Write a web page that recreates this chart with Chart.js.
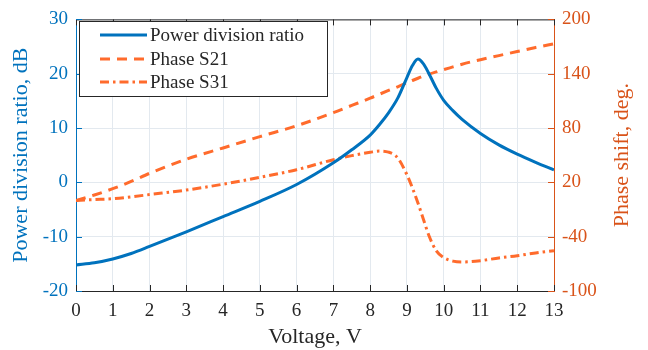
<!DOCTYPE html>
<html>
<head>
<meta charset="utf-8">
<script src="https://cdn.jsdelivr.net/npm/chart.js@4"></script>
<style>
  html, body { margin: 0; padding: 0; background: #fff; }
  #wrap { width: 648px; height: 350px; }
</style>
</head>
<body>
<div id="wrap"><canvas id="phaseChart"></canvas></div>
<script>
// voltage sweep, V
const voltage = [0, 0.5, 1, 1.5, 2, 3, 4, 5, 6, 7, 7.5, 8, 8.25, 8.5, 8.75, 9, 9.15, 9.3, 9.45, 9.6, 9.8, 10, 10.25, 10.5, 11, 11.5, 12, 12.5, 13];

// power division ratio, dB (left axis)
const powerRatio = [-15.2, -14.8, -14.1, -13.1, -11.8, -9.1, -6.3, -3.5, -0.4, 3.6, 6.0, 8.7, 10.6, 12.8, 15.5, 19.3, 21.5, 22.7, 21.8, 20.0, 17.3, 15.1, 13.2, 11.6, 9.0, 6.9, 5.2, 3.7, 2.3];

// phase shift, deg (right axis)
const phaseS21 = [0, 6, 13, 21, 30, 45.5, 58, 70.5, 82.5, 97, 105, 113, 117.3, 121.5, 125.5, 130, 132.5, 135, 137.5, 139.5, 142, 144.5, 147.5, 150.5, 155.5, 160, 164.5, 169, 173];
const phaseS31 = [0, 1, 2, 4, 6.5, 11.5, 18, 25.5, 34, 45, 49.5, 53.2, 54.6, 53.4, 47, 28.4, 13.8, -2.8, -21, -39, -55.6, -63, -67, -68, -66.5, -63.5, -61, -58, -55.5];

const xTicks = [0, 1, 2, 3, 4, 5, 6, 7, 8, 9, 10, 11, 12, 13];
const dbTicks = [-20, -10, 0, 10, 20, 30];
const degTicks = [-100, -40, 20, 80, 140, 200];

const BLUE = "#0072bd";
const ORANGE = "#ff6b2c";
const ORANGE_AXIS = "#d95319";
const DARK = "#262626";
const GRID = "#e3e9ef";
const SERIF = "'Liberation Serif', 'Times New Roman', serif";

const toPoints = (ys) => voltage.map((v, i) => ({ x: v, y: ys[i] }));

// inward tick marks, top frame line, right-hand title and the boxed legend
const framePlugin = {
  id: "frame",
  afterDraw(chart) {
    const { ctx, chartArea: a, scales } = chart;
    const len = 6;
    ctx.save();
    ctx.lineWidth = 1;

    ctx.strokeStyle = DARK;
    ctx.beginPath();
    ctx.moveTo(a.left, a.top + 0.5);
    ctx.lineTo(a.right, a.top + 0.5);
    xTicks.forEach((t) => {
      const px = Math.round(scales.x.getPixelForValue(t)) + 0.5;
      ctx.moveTo(px, a.bottom);
      ctx.lineTo(px, a.bottom - len);
      ctx.moveTo(px, a.top);
      ctx.lineTo(px, a.top + len);
    });
    ctx.stroke();

    ctx.strokeStyle = BLUE;
    ctx.beginPath();
    dbTicks.forEach((t) => {
      const py = Math.round(scales.y.getPixelForValue(t)) + 0.5;
      ctx.moveTo(a.left, py);
      ctx.lineTo(a.left + len, py);
    });
    ctx.stroke();

    ctx.strokeStyle = ORANGE_AXIS;
    ctx.beginPath();
    degTicks.forEach((t) => {
      const py = Math.round(scales.y2.getPixelForValue(t)) + 0.5;
      ctx.moveTo(a.right, py);
      ctx.lineTo(a.right - len, py);
    });
    ctx.stroke();

    // right axis title, reading bottom to top like the left one
    ctx.save();
    ctx.translate(622, (a.top + a.bottom) / 2);
    ctx.rotate(-Math.PI / 2);
    ctx.font = "22px " + SERIF;
    ctx.fillStyle = ORANGE_AXIS;
    ctx.textAlign = "center";
    ctx.textBaseline = "middle";
    ctx.fillText("Phase shift, deg.", 0, 0);
    ctx.restore();

    // legend
    const box = { x: 79.5, y: 21.5, w: 248, h: 75 };
    ctx.fillStyle = "#fff";
    ctx.fillRect(box.x, box.y, box.w, box.h);
    ctx.strokeStyle = DARK;
    ctx.strokeRect(box.x, box.y, box.w, box.h);

    const rows = [35, 59, 82];
    ctx.font = "19px " + SERIF;
    ctx.textBaseline = "middle";
    ctx.textAlign = "left";
    chart.data.datasets.forEach((ds, i) => {
      const y = rows[i];
      ctx.strokeStyle = ds.borderColor;
      ctx.lineWidth = ds.borderWidth;
      ctx.setLineDash(ds.borderDash || []);
      ctx.beginPath();
      ctx.moveTo(100, y);
      ctx.lineTo(147, y);
      ctx.stroke();
      ctx.setLineDash([]);
      ctx.fillStyle = DARK;
      ctx.fillText(ds.label, 150, y + 1);
    });
    ctx.restore();
  }
};

new Chart(document.getElementById("phaseChart"), {
  type: "line",
  data: {
    datasets: [
      {
        label: "Power division ratio",
        data: toPoints(powerRatio),
        yAxisID: "y",
        borderColor: BLUE,
        borderWidth: 3,
        pointRadius: 0,
        cubicInterpolationMode: "monotone"
      },
      {
        label: "Phase S21",
        data: toPoints(phaseS21),
        yAxisID: "y2",
        borderColor: ORANGE,
        borderWidth: 3,
        borderDash: [10, 7],
        pointRadius: 0,
        cubicInterpolationMode: "monotone"
      },
      {
        label: "Phase S31",
        data: toPoints(phaseS31),
        yAxisID: "y2",
        borderColor: ORANGE,
        borderWidth: 3,
        borderDash: [9, 4, 2.5, 4],
        pointRadius: 0,
        cubicInterpolationMode: "monotone"
      }
    ]
  },
  options: {
    responsive: true,
    maintainAspectRatio: false,
    animation: false,
    layout: { padding: { top: 17, left: 0, right: 0, bottom: 0 } },
    plugins: {
      legend: { display: false },
      tooltip: { enabled: false }
    },
    scales: {
      x: {
        type: "linear",
        min: 0,
        max: 13,
        afterBuildTicks: (s) => { s.ticks = xTicks.map((v) => ({ value: v })); },
        afterFit: (s) => { s.height = 59; },
        ticks: {
          color: DARK,
          padding: 9,
          maxRotation: 0,
          font: { family: SERIF, size: 19 }
        },
        grid: { color: GRID, drawTicks: false },
        border: { color: DARK, width: 1 },
        title: {
          display: true,
          text: "Voltage, V",
          color: DARK,
          font: { family: SERIF, size: 22 },
          padding: { top: 0, bottom: 0 }
        }
      },
      y: {
        position: "left",
        min: -20,
        max: 30,
        afterBuildTicks: (s) => { s.ticks = dbTicks.map((v) => ({ value: v })); },
        afterFit: (s) => { s.width = 76; },
        ticks: {
          color: BLUE,
          padding: 8,
          font: { family: SERIF, size: 19 }
        },
        grid: { color: GRID, drawTicks: false },
        border: { color: BLUE, width: 1 },
        title: {
          display: true,
          text: "Power division ratio, dB",
          color: BLUE,
          font: { family: SERIF, size: 22 },
          padding: { top: 8, bottom: 0 }
        }
      },
      y2: {
        position: "right",
        min: -100,
        max: 200,
        afterBuildTicks: (s) => { s.ticks = degTicks.map((v) => ({ value: v })); },
        afterFit: (s) => { s.width = 94; },
        ticks: {
          color: ORANGE_AXIS,
          padding: 8,
          font: { family: SERIF, size: 19 }
        },
        grid: { display: false, drawTicks: false },
        border: { color: ORANGE_AXIS, width: 1 }
      }
    }
  },
  plugins: [framePlugin]
});
</script>
</body>
</html>
